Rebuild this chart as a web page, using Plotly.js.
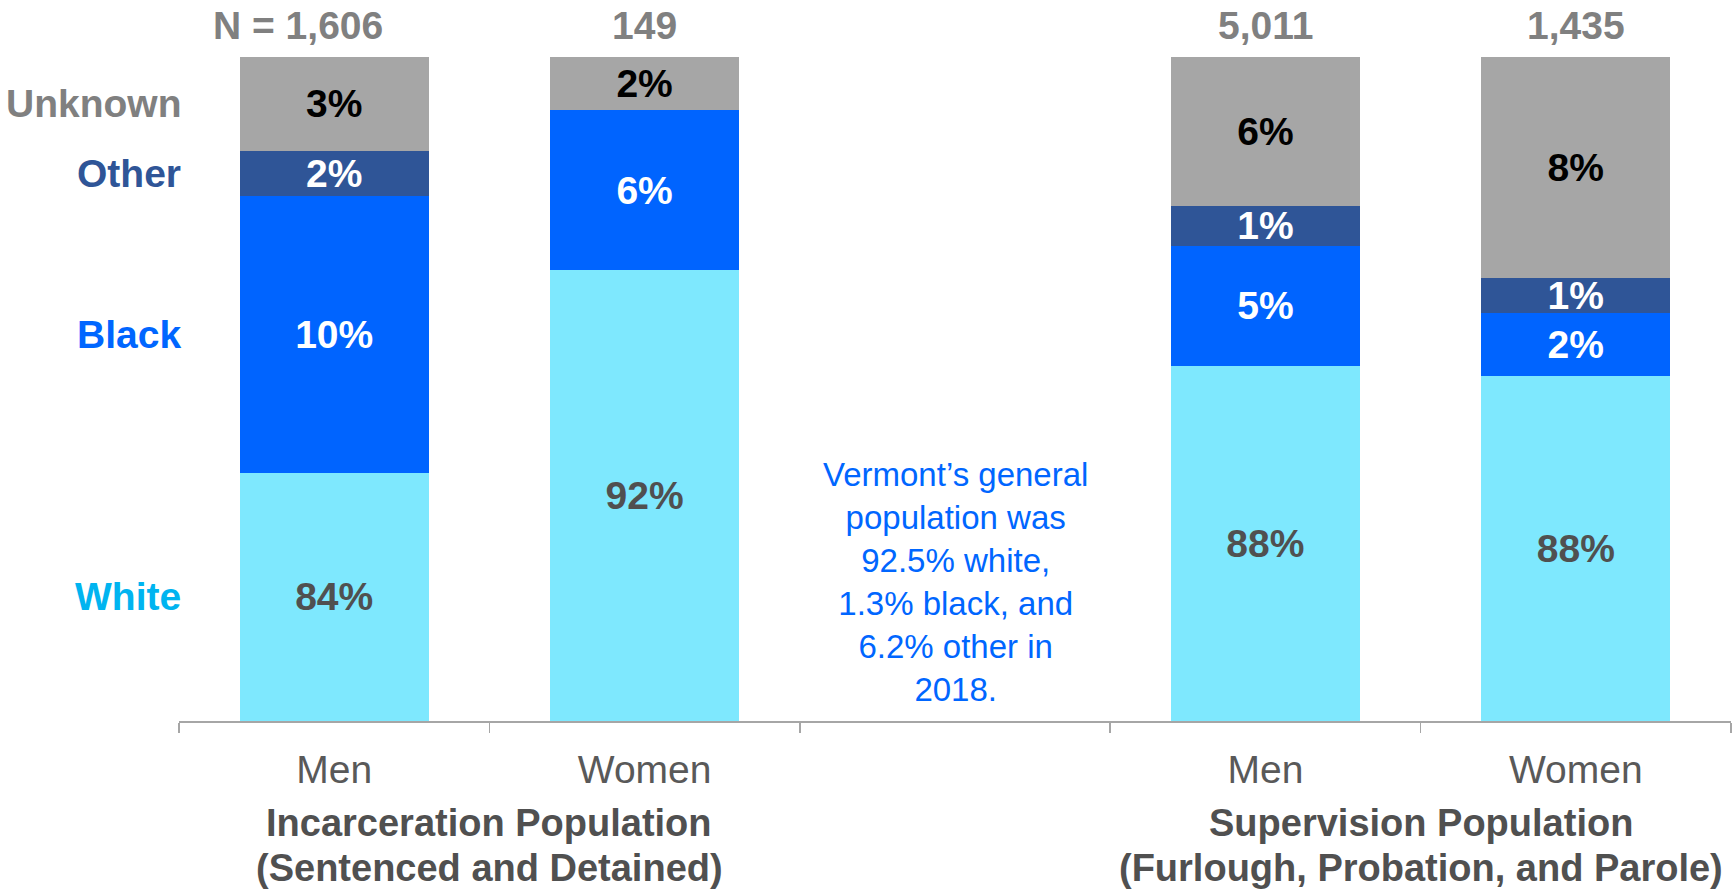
<!DOCTYPE html>
<html>
<head>
<meta charset="utf-8">
<script src="https://cdn.plot.ly/plotly-3.0.1.min.js"></script>
<style>
  html, body { margin: 0; padding: 0; background: #fff; }
  #chart { width: 1733px; height: 891px; }
</style>
</head>
<body>
<div id="chart"></div>
<script>
// Categories on the x axis (the middle slot is an empty gap for the note)
const categories = ['inc-men', 'inc-women', 'gap', 'sup-men', 'sup-women'];
const tickLabels = ['Men', 'Women', '', 'Men', 'Women'];
const groupNames = [
    ['Incarceration Population', '(Sentenced and Detained)'],
    ['Supervision Population', '(Furlough, Probation, and Parole)']
];
const groupCenters = [0.5, 3.5];
const totals = ['N = 1,606', '149', '', '5,011', '1,435'];

// Segment heights as drawn in the chart (each column stacks to 100)
const whiteHeight   = [37.4, 67.9, 0, 53.5, 51.9];
const blackHeight   = [41.7, 24.1, 0, 18.1, 9.6];
const otherHeight   = [6.8, 0, 0, 6.0, 5.2];
const unknownHeight = [14.1, 8.0, 0, 22.4, 33.3];

// Percent labels shown inside each segment
const whiteLabels   = ['84%', '92%', '', '88%', '88%'];
const blackLabels   = ['10%', '6%', '', '5%', '2%'];
const otherLabels   = ['2%', '', '', '1%', '1%'];
const unknownLabels = ['3%', '2%', '', '6%', '8%'];

const seriesNames = ['White', 'Black', 'Other', 'Unknown'];
const noteText = 'Vermont’s general<br>population was<br>92.5% white,<br>1.3% black, and<br>6.2% other in<br>2018.';

const FONT = 'Arial, "Liberation Sans", sans-serif';

const series = [
    { name: 'White',   y: whiteHeight,   text: whiteLabels,   fill: '#7EE8FE', textColor: '#505050', labelColor: '#00B4F0' },
    { name: 'Black',   y: blackHeight,   text: blackLabels,   fill: '#0064FF', textColor: '#FFFFFF', labelColor: '#0066FF' },
    { name: 'Other',   y: otherHeight,   text: otherLabels,   fill: '#2F5597', textColor: '#FFFFFF', labelColor: '#2F5597' },
    { name: 'Unknown', y: unknownHeight, text: unknownLabels, fill: '#A6A6A6', textColor: '#000000', labelColor: '#808080' }
];

const traces = series.map(s => ({
    type: 'bar',
    name: s.name,
    x: categories,
    y: s.y,
    text: s.text,
    textposition: 'inside',
    insidetextanchor: 'middle',
    textangle: 0,
    textfont: { family: FONT, size: 39, color: s.textColor, weight: 'bold' },
    marker: { color: s.fill, line: { width: 0 } },
    width: 0.61,
    hoverinfo: 'skip',
    showlegend: false
}));

const annotations = [];

// Series labels on the left, aligned with the first column's segments
let base = 0;
series.forEach(s => {
    const mid = base + s.y[0] / 2;
    base += s.y[0];
    annotations.push({
        xref: 'paper', yref: 'y', x: 0, y: mid,
        xanchor: 'right', yanchor: 'middle', xshift: 4,
        text: '<b>' + s.name + '</b>', showarrow: false,
        font: { family: FONT, size: 39, color: s.labelColor }
    });
});

// N totals above each column
categories.forEach((c, i) => {
    if (!totals[i]) return;
    annotations.push({
        xref: 'x', yref: 'paper', x: i, y: 1,
        xanchor: 'center', yanchor: 'middle', yshift: 32,
        xshift: i === 0 ? -36 : 0,
        text: '<b>' + totals[i] + '</b>', showarrow: false,
        font: { family: FONT, size: 39, color: '#808080' }
    });
});

// Group titles under the axis
groupNames.forEach((lines, g) => {
    lines.forEach((line, k) => {
        annotations.push({
            xref: 'x', yref: 'paper', x: groupCenters[g], y: 0,
            xanchor: 'center', yanchor: 'middle', yshift: -102 - k * 45,
            text: '<b>' + line + '</b>', showarrow: false,
            font: { family: FONT, size: 38, color: '#505050' }
        });
    });
});

// Note in the gap column
annotations.push({
    xref: 'x', yref: 'y', x: 2, y: 21,
    xanchor: 'center', yanchor: 'middle',
    text: noteText, showarrow: false, align: 'center',
    font: { family: FONT, size: 33, color: '#0066FF' }
});

const layout = {
    barmode: 'stack',
    width: 1733,
    height: 891,
    margin: { l: 179, r: 2, t: 57, b: 170 },
    paper_bgcolor: '#FFFFFF',
    plot_bgcolor: '#FFFFFF',
    showlegend: false,
    uniformtext: { mode: 'show', minsize: 39 },
    xaxis: {
        type: 'category',
        categoryorder: 'array',
        categoryarray: categories,
        tickvals: categories,
        ticktext: tickLabels,
        range: [-0.5, 4.5],
        tickson: 'boundaries',
        ticks: 'outside',
        ticklen: 10,
        tickcolor: '#A6A6A6',
        tickwidth: 1.5,
        showline: true,
        linecolor: '#A6A6A6',
        linewidth: 1.5,
        showgrid: false,
        zeroline: false,
        ticklabelstandoff: 14,
        tickfont: { family: FONT, size: 39, color: '#595959' },
        fixedrange: true
    },
    yaxis: {
        range: [0, 100],
        visible: false,
        showgrid: false,
        zeroline: false,
        fixedrange: true
    },
    annotations: annotations
};

Plotly.newPlot('chart', traces, layout, { displayModeBar: false, staticPlot: true });
</script>
</body>
</html>
